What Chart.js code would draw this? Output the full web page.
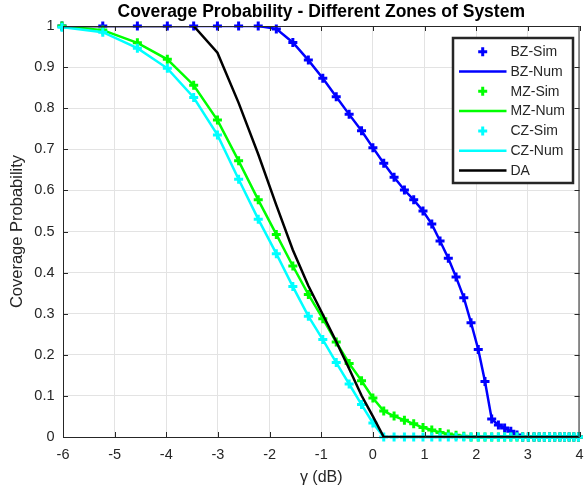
<!DOCTYPE html>
<html>
<head>
<meta charset="utf-8">
<script src="https://cdn.jsdelivr.net/npm/chart.js@4.4.1/dist/chart.umd.min.js"></script>
<style>
  body { margin: 0; background: #fff; }
</style>
</head>
<body>
<canvas id="cov" width="587" height="490"></canvas>
<script>
// gamma in dB (samples are 0.25..2.5 in linear scale, step 0.05)
var gammaDb = [-6.02, -5.23, -4.56, -3.98, -3.47, -3.01, -2.6, -2.22, -1.87, -1.55,
  -1.25, -0.97, -0.71, -0.46, -0.22, 0, 0.21, 0.41, 0.61, 0.79,
  0.97, 1.14, 1.3, 1.46, 1.61, 1.76, 1.9, 2.04, 2.17, 2.3,
  2.43, 2.55, 2.67, 2.79, 2.9, 3.01, 3.12, 3.22, 3.32, 3.42,
  3.52, 3.62, 3.71, 3.8, 3.89, 3.98];

// base zone
var bzProb = [1, 1, 1, 1, 1, 1, 1, 1, 0.993, 0.96,
  0.917, 0.873, 0.828, 0.785, 0.745, 0.704, 0.666, 0.632, 0.601, 0.577,
  0.55, 0.518, 0.477, 0.435, 0.389, 0.339, 0.278, 0.213, 0.135, 0.044,
  0.029, 0.022, 0.014, 0.005, 0, 0, 0, 0, 0, 0,
  0, 0, 0, 0, 0, 0];

// middle zone
var mzProb = [1, 0.99, 0.959, 0.919, 0.856, 0.771, 0.672, 0.577, 0.493, 0.416,
  0.347, 0.288, 0.231, 0.179, 0.137, 0.095, 0.063, 0.051, 0.041, 0.032,
  0.023, 0.017, 0.011, 0.007, 0.004, 0.002, 0, 0, 0, 0,
  0, 0, 0, 0, 0, 0, 0, 0, 0, 0,
  0, 0, 0, 0, 0, 0];

// cell edge zone
var czProb = [0.997, 0.985, 0.946, 0.897, 0.826, 0.735, 0.627, 0.53, 0.446, 0.366,
  0.294, 0.237, 0.181, 0.129, 0.079, 0.034, 0, 0, 0, 0,
  0, 0, 0, 0, 0, 0, 0, 0, 0, 0,
  0, 0, 0, 0, 0, 0, 0, 0, 0, 0,
  0, 0, 0, 0, 0, 0];

// DA
var daProb = [1, 1, 1, 1, 1, 0.935, 0.813, 0.688, 0.564, 0.455,
  0.368, 0.298, 0.232, 0.166, 0.101, 0.05, 0, 0, 0, 0,
  0, 0, 0, 0, 0, 0, 0, 0, 0, 0,
  0, 0, 0, 0, 0, 0, 0, 0, 0, 0,
  0, 0, 0, 0, 0, 0];

var xTicks = [-6, -5, -4, -3, -2, -1, 0, 1, 2, 3, 4];
var yTicks = [0, 0.1, 0.2, 0.3, 0.4, 0.5, 0.6, 0.7, 0.8, 0.9, 1];

var FONT = "'Liberation Sans', Arial, Helvetica, sans-serif";
var AXIS_COLOR = '#262626';

function pts(ys) {
  return gammaDb.map(function (g, i) { return {x: g, y: ys[i]}; });
}

function simSet(label, ys, color, order) {
  return {
    label: label, data: pts(ys), showLine: false, order: order,
    pointStyle: 'cross', pointRadius: 4.5, pointHoverRadius: 4.5,
    pointBorderWidth: 3, pointBorderColor: color, pointBackgroundColor: color,
    borderColor: color, backgroundColor: color, clip: false
  };
}
function numSet(label, ys, color, order) {
  return {
    label: label, data: pts(ys), showLine: true, order: order,
    borderColor: color, backgroundColor: color, borderWidth: 2.5,
    pointRadius: 0, tension: 0, fill: false
  };
}

var datasets = [
  simSet('BZ-Sim', bzProb, '#0000ff', 6),
  numSet('BZ-Num', bzProb, '#0000ff', 5),
  simSet('MZ-Sim', mzProb, '#00ff00', 4),
  numSet('MZ-Num', mzProb, '#00ff00', 3),
  simSet('CZ-Sim', czProb, '#00ffff', 2),
  numSet('CZ-Num', czProb, '#00ffff', 1),
  numSet('DA', daProb, '#000000', 0)
];

// box round the plot with inward ticks, like matlab
var frame = {
  id: 'frame',
  afterDatasetsDraw: function (chart) {
    var ctx = chart.ctx, a = chart.chartArea;
    var xs = chart.scales.x, ys = chart.scales.y;
    ctx.save();
    ctx.strokeStyle = AXIS_COLOR;
    ctx.lineWidth = 1;
    ctx.strokeRect(a.left + 0.5, a.top + 0.5, a.right - a.left - 1, a.bottom - a.top);
    ctx.beginPath();
    xTicks.forEach(function (v) {
      var px = Math.round(xs.getPixelForValue(v)) + 0.5;
      ctx.moveTo(px, a.bottom); ctx.lineTo(px, a.bottom - 5);
      ctx.moveTo(px, a.top); ctx.lineTo(px, a.top + 5);
    });
    yTicks.forEach(function (v) {
      var py = Math.round(ys.getPixelForValue(v)) + 0.5;
      ctx.moveTo(a.left, py); ctx.lineTo(a.left + 5, py);
      ctx.moveTo(a.right, py); ctx.lineTo(a.right - 5, py);
    });
    ctx.stroke();
    ctx.restore();
  }
};

// legend box inside the axes
var boxLegend = {
  id: 'boxLegend',
  afterDraw: function (chart) {
    var ctx = chart.ctx;
    var left = 453, top = 38, w = 120, h = 145, rowH = 19.8;
    ctx.save();
    ctx.fillStyle = '#fff';
    ctx.fillRect(left, top, w, h);
    ctx.strokeStyle = AXIS_COLOR;
    ctx.lineWidth = 2.5;
    ctx.strokeRect(left, top, w, h);
    ctx.font = '14px ' + FONT;
    ctx.textBaseline = 'middle';
    ctx.textAlign = 'left';
    chart.data.datasets.forEach(function (ds, i) {
      var cy = top + 13.7 + i * rowH;
      ctx.strokeStyle = ds.borderColor;
      if (ds.showLine) {
        ctx.lineWidth = 2.5;
        ctx.beginPath();
        ctx.moveTo(459, cy); ctx.lineTo(506.5, cy);
        ctx.stroke();
      } else {
        ctx.lineWidth = 3;
        ctx.beginPath();
        ctx.moveTo(482.7 - 4.5, cy); ctx.lineTo(482.7 + 4.5, cy);
        ctx.moveTo(482.7, cy - 4.5); ctx.lineTo(482.7, cy + 4.5);
        ctx.stroke();
      }
      ctx.fillStyle = AXIS_COLOR;
      ctx.fillText(ds.label, 510.5, cy + 0.5);
    });
    ctx.restore();
  }
};

function plainNum(v) { return String(Math.round(v * 10) / 10); }

new Chart(document.getElementById('cov'), {
  type: 'scatter',
  data: {datasets: datasets},
  plugins: [frame, boxLegend],
  options: {
    responsive: false,
    animation: false,
    layout: {padding: {left: 0, right: 2, top: 0, bottom: 0}},
    plugins: {
      legend: {display: false},
      tooltip: {enabled: false},
      title: {
        display: true,
        fullSize: false,
        text: 'Coverage Probability - Different Zones of System',
        color: '#000',
        font: {family: FONT, size: 17.5, weight: 'bold'},
        padding: {top: 2, bottom: 3}
      }
    },
    scales: {
      x: {
        type: 'linear', min: -6, max: 4,
        afterBuildTicks: function (s) { s.ticks = xTicks.map(function (v) { return {value: v}; }); },
        afterFit: function (s) { s.height = 53; s.paddingLeft = 0; s.paddingRight = 0; },
        ticks: {color: AXIS_COLOR, font: {family: FONT, size: 14.5}, padding: 9.5, maxRotation: 0,
          callback: plainNum},
        grid: {color: '#e3e3e3', lineWidth: 1, drawTicks: false},
        border: {display: true, color: AXIS_COLOR, width: 1},
        title: {display: true, text: 'γ (dB)', color: AXIS_COLOR,
          font: {family: FONT, size: 16}, padding: {top: 0, bottom: 2.4}}
      },
      y: {
        type: 'linear', min: 0, max: 1,
        afterBuildTicks: function (s) { s.ticks = yTicks.map(function (v) { return {value: v}; }); },
        afterFit: function (s) { s.width = 63; s.paddingTop = 0; s.paddingBottom = 0; },
        ticks: {color: AXIS_COLOR, font: {family: FONT, size: 14.5}, padding: 8.5,
          callback: plainNum},
        grid: {color: '#e3e3e3', lineWidth: 1, drawTicks: false},
        border: {display: true, color: AXIS_COLOR, width: 1},
        title: {display: true, text: 'Coverage Probability', color: AXIS_COLOR,
          font: {family: FONT, size: 16.5}, padding: {top: 8, bottom: 0}}
      }
    }
  }
});
</script>
</body>
</html>
